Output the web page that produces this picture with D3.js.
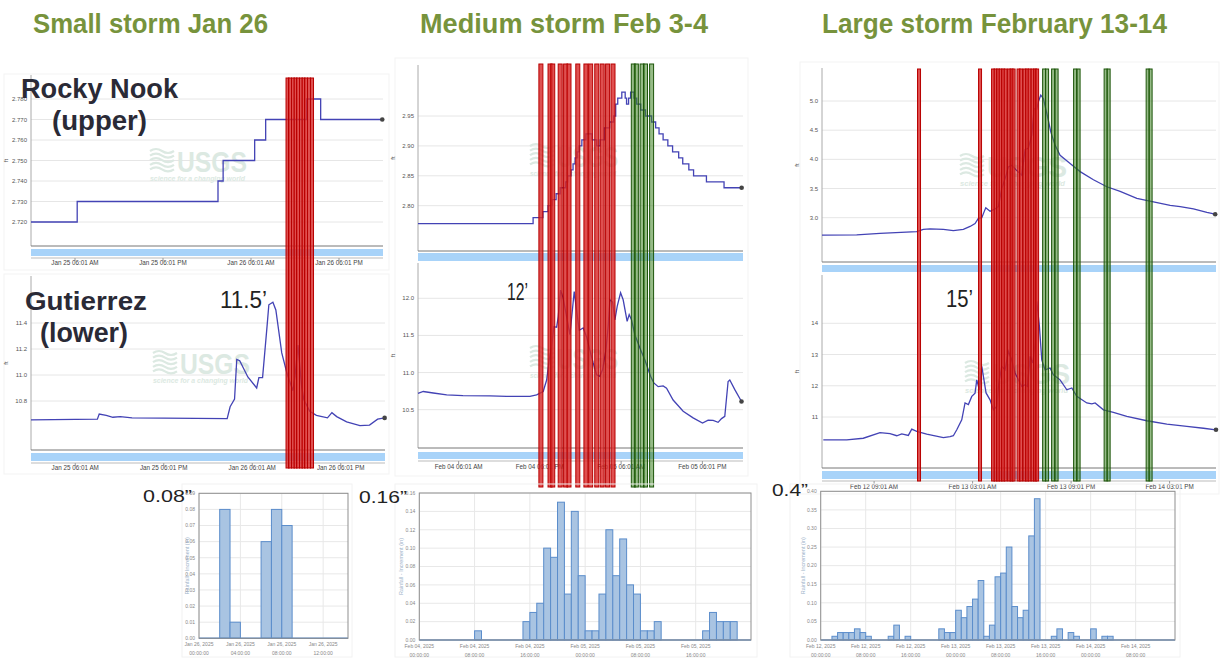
<!DOCTYPE html>
<head>
<meta charset="utf-8">
<title>Storm stage and rainfall</title>
<script src="https://d3js.org/d3.v7.min.js"></script>
<style>
  body { margin: 0; background: #fff; }
  text { font-family: "Liberation Sans", Arial, sans-serif; }
</style>
</head>
<body>
<div id="chart"></div>
<script>
// ---- data (hours since start of each panel's window, values in ft / in) ----
var titles = ["Small storm Jan 26", "Medium storm Feb 3-4", "Large storm February 13-14"];
var siteLabels = ["Rocky Nook", "(upper)", "Gutierrez", "(lower)"];
var peakLabels = ["11.5\u2019", "12\u2019", "15\u2019"];
var rainPeakLabels = ["0.08\u201d", "0.16\u201d", "0.4\u201d"];

// Jan 25 00:00 -> Jan 27 00:00
var janRockyHours = [0, 6.3, 25.5, 26.2, 30.5, 32.0, 37.6, 39.5, 47.9];
var janRockyFt = [2.72, 2.73, 2.74, 2.75, 2.76, 2.77, 2.78, 2.77, 2.77];
var janGutHours = [0, 9.0, 9.25, 10.2, 11.1, 12.1, 13.7, 26.6, 27.0, 27.6, 27.9, 28.3, 29.4, 30.6, 30.9, 31.4, 32.0, 32.25, 32.8, 33.2, 34.0, 34.7, 35.5, 35.8, 36.2, 36.4, 36.7, 37.0, 37.8, 38.7, 40.2, 40.8, 41.45, 42.8, 44.6, 45.9, 47.0, 47.95];
var janGutFt = [10.655, 10.66, 10.70, 10.69, 10.675, 10.68, 10.67, 10.665, 10.756, 10.815, 11.12, 11.11, 10.985, 10.90, 10.98, 10.98, 11.37, 11.54, 11.56, 11.50, 11.17, 11.015, 10.88, 10.99, 11.23, 11.10, 10.91, 10.81, 10.72, 10.69, 10.67, 10.71, 10.68, 10.64, 10.61, 10.615, 10.66, 10.67];
var janRedHours = [34.98, 35.32, 35.73, 36.07, 36.41, 36.82, 37.16, 37.5, 37.91, 38.32];
var janTickHours = [6, 18, 30, 42];
var janTickLabels = ["Jan 25 06:01 AM", "Jan 25 06:01 PM", "Jan 26 06:01 AM", "Jan 26 06:01 PM"];
var janRockyGrid = [2.72, 2.73, 2.74, 2.75, 2.76, 2.77, 2.78];
var janGutGrid = [10.8, 11.0, 11.2, 11.4];

// Feb 04 00:00 -> Feb 06 00:00
var febMidRockyHours = [0, 17.0, 18.45, 19.2, 19.8, 20.4, 21.0, 21.8, 22.1, 22.6, 22.9, 23.2, 23.5, 23.8, 24.2, 24.8, 25.7, 26.4, 26.9, 27.5, 28.3, 28.9, 29.2, 29.5, 30.1, 30.6, 30.8, 31.1, 31.4, 31.9, 32.3, 32.9, 33.6, 34.5, 35.1, 35.6, 36.2, 36.9, 37.6, 38.5, 39.1, 40.0, 40.7, 42.6, 45.2, 47.8];
var febMidRockyFt = [2.77, 2.78, 2.79, 2.80, 2.81, 2.82, 2.83, 2.84, 2.85, 2.86, 2.87, 2.88, 2.89, 2.90, 2.91, 2.92, 2.91, 2.90, 2.91, 2.93, 2.94, 2.95, 2.97, 2.98, 2.99, 2.98, 2.97, 2.98, 2.99, 2.98, 2.97, 2.96, 2.95, 2.94, 2.93, 2.92, 2.91, 2.90, 2.89, 2.88, 2.87, 2.86, 2.85, 2.84, 2.83, 2.83];
var febMidGutHours = [0, 0.78, 2.26, 4.24, 6.64, 10.63, 13.09, 16.53, 17.52, 18.49, 19.0, 19.38, 19.73, 20.07, 20.47, 20.71, 21.06, 21.45, 21.95, 22.44, 22.83, 23.07, 23.42, 23.81, 24.40, 24.90, 25.39, 25.87, 26.38, 26.86, 27.26, 27.75, 28.09, 28.34, 28.74, 29.08, 29.42, 29.92, 30.30, 30.89, 31.19, 31.54, 32.03, 32.77, 33.51, 34.35, 34.83, 35.47, 36.21, 36.71, 37.68, 39.16, 40.63, 42.02, 42.85, 43.59, 44.32, 44.83, 45.31, 45.80, 46.05, 46.79, 47.78];
var febMidGutFt = [10.72, 10.745, 10.725, 10.70, 10.69, 10.685, 10.68, 10.68, 10.70, 10.745, 10.90, 11.17, 11.35, 11.62, 11.61, 11.75, 12.11, 12.0, 11.75, 11.51, 11.87, 12.09, 11.84, 11.57, 11.60, 11.48, 11.30, 11.13, 10.97, 10.95, 11.04, 11.30, 11.62, 11.98, 11.95, 11.71, 11.89, 12.075, 11.98, 11.69, 11.78, 11.71, 11.51, 11.33, 11.17, 10.95, 10.86, 10.81, 10.82, 10.79, 10.63, 10.48, 10.39, 10.32, 10.36, 10.355, 10.33, 10.38, 10.41, 10.88, 10.90, 10.77, 10.61];
var febMidRedHours = [18.15, 19.5, 19.9, 21.0, 21.8, 22.3, 23.6, 24.8, 25.5, 26.4, 27.2, 28.0, 28.8];
var febMidGreenHours = [31.8, 32.25, 33.1, 33.6, 34.5];
var febMidTickHours = [6, 18, 30, 42];
var febMidTickLabels = ["Feb 04 06:01 AM", "Feb 04 06:01 PM", "Feb 05 06:01 AM", "Feb 05 06:01 PM"];
var febMidRockyGrid = [2.80, 2.85, 2.90, 2.95];
var febMidGutGrid = [10.5, 11.0, 11.5, 12.0];

// Feb 11 23:30 -> Feb 14 23:30
var febBigRockyHours = [0, 6.34, 10.60, 17.31, 18.52, 19.74, 22.18, 24.00, 25.83, 27.06, 27.97, 28.57, 29.20, 29.62, 29.93, 30.71, 31.63, 32.23, 32.85, 33.46, 34.06, 34.68, 35.47, 36.51, 37.11, 37.71, 38.34, 38.76, 39.25, 39.54, 39.98, 40.46, 41.08, 41.81, 42.60, 43.51, 45.34, 47.17, 49.60, 52.05, 54.48, 57.53, 60.57, 63.62, 65.45, 67.88, 70.33, 71.85];
var febBigRockyFt = [2.70, 2.705, 2.73, 2.76, 2.80, 2.81, 2.80, 2.78, 2.80, 2.85, 2.90, 2.99, 3.0, 3.10, 3.17, 3.11, 3.15, 3.19, 3.50, 3.67, 3.87, 3.90, 3.82, 3.73, 4.17, 4.19, 4.42, 4.87, 4.86, 4.99, 5.10, 5.04, 4.79, 4.47, 4.24, 4.07, 3.93, 3.79, 3.65, 3.53, 3.45, 3.33, 3.27, 3.21, 3.19, 3.15, 3.09, 3.06];
var febBigGutHours = [0.24, 4.52, 7.55, 10.60, 12.43, 13.66, 14.57, 15.78, 16.40, 17.31, 19.14, 22.18, 23.40, 24.00, 24.63, 25.54, 26.14, 26.75, 27.37, 27.97, 28.28, 28.76, 29.20, 29.98, 30.71, 31.32, 31.94, 32.23, 32.85, 33.46, 34.06, 34.68, 35.28, 35.89, 36.51, 37.11, 37.57, 38.03, 38.52, 38.94, 39.25, 39.73, 40.16, 40.77, 41.68, 42.28, 43.51, 44.74, 45.65, 46.56, 48.39, 49.31, 49.91, 51.43, 53.25, 55.70, 59.36, 63.02, 66.67, 69.71, 72];
var febBigGutFt = [10.27, 10.27, 10.32, 10.50, 10.47, 10.40, 10.46, 10.41, 10.61, 10.54, 10.45, 10.34, 10.37, 10.40, 10.59, 10.91, 11.45, 11.40, 11.66, 11.76, 12.19, 11.87, 12.62, 11.77, 11.55, 11.23, 11.34, 11.98, 12.62, 12.51, 13.10, 12.83, 12.41, 12.19, 11.98, 12.03, 11.98, 12.94, 12.73, 13.37, 14.70, 13.90, 12.83, 12.51, 12.57, 12.35, 12.19, 11.87, 11.93, 11.66, 11.45, 11.42, 11.45, 11.23, 11.15, 11.02, 10.88, 10.77, 10.70, 10.64, 10.59];
var febBigRedHours = [17.73, 28.88, 31.26, 31.72, 32.18, 32.63, 33.09, 33.55, 34.19, 34.64, 35.01, 35.92, 36.38, 37.02, 37.48, 37.93, 38.48, 38.94, 39.31];
var febBigGreenHours = [40.59, 41.13, 42.23, 42.87, 46.25, 46.89, 51.83, 52.38, 59.51, 60.05];
var febBigTickHours = [9.52, 27.52, 45.52, 63.52];
var febBigTickLabels = ["Feb 12 09:01 AM", "Feb 13 03:01 AM", "Feb 13 09:01 PM", "Feb 14 03:01 PM"];
var febBigRockyGrid = [3.0, 3.5, 4.0, 4.5, 5.0];
var febBigGutGrid = [11, 12, 13, 14];

// hourly rainfall increments (in)
var janRain = [0, 0, 0.08, 0.01, 0, 0, 0.06, 0.08, 0.07, 0, 0, 0, 0, 0, 0];
var febMidRain = [0, 0, 0, 0, 0, 0, 0, 0, 0.01, 0, 0, 0, 0, 0, 0,
  0.02, 0.03, 0.04, 0.10, 0.09, 0.15, 0.05, 0.14, 0.07,
  0.01, 0.01, 0.05, 0.12, 0.07, 0.11, 0.06, 0.05, 0.01, 0.01, 0.02,
  0, 0, 0, 0, 0, 0, 0.01, 0.03, 0.02, 0.02, 0.02, 0, 0];
var febBigRain = [0, 0, 0.01, 0.02, 0.02, 0.02, 0.03, 0.02, 0.01, 0, 0, 0,
  0.01, 0.04, 0, 0.01, 0, 0, 0, 0, 0,
  0.03, 0.02, 0.02, 0.08, 0.06, 0.09, 0.11, 0.16, 0.01, 0.04, 0.17, 0.18, 0.25, 0.09, 0.06, 0.08, 0.28, 0.38,
  0, 0, 0.01, 0.03, 0, 0.02, 0.01, 0, 0, 0.03, 0, 0.01, 0.01,
  0, 0, 0, 0, 0, 0, 0, 0, 0, 0, 0];
var janRainGrid = [0, 0.01, 0.02, 0.03, 0.04, 0.05, 0.06, 0.07, 0.08, 0.09];
var febMidRainGrid = [0, 0.02, 0.04, 0.06, 0.08, 0.10, 0.12, 0.14, 0.16];
var febBigRainGrid = [0, 0.05, 0.10, 0.15, 0.20, 0.25, 0.30, 0.35, 0.40];
var janRainTickHours = [0, 4, 8, 12];
var janRainTickDates = ["Jan 26, 2025", "Jan 26, 2025", "Jan 26, 2025", "Jan 26, 2025"];
var janRainTickTimes = ["00:00:00", "04:00:00", "08:00:00", "12:00:00"];
var febMidRainTickHours = [0, 8, 16, 24, 32, 40];
var febMidRainTickDates = ["Feb 04, 2025", "Feb 04, 2025", "Feb 04, 2025", "Feb 05, 2025", "Feb 05, 2025", "Feb 05, 2025"];
var febMidRainTickTimes = ["00:00:00", "08:00:00", "16:00:00", "00:00:00", "08:00:00", "16:00:00"];
var febBigRainTickHours = [0, 8, 16, 24, 32, 40, 48, 56];
var febBigRainTickDates = ["Feb 12, 2025", "Feb 12, 2025", "Feb 12, 2025", "Feb 13, 2025", "Feb 13, 2025", "Feb 13, 2025", "Feb 14, 2025", "Feb 14, 2025"];
var febBigRainTickTimes = ["00:00:00", "08:00:00", "16:00:00", "00:00:00", "08:00:00", "16:00:00", "00:00:00", "08:00:00"];

// ---- drawing ----
var svg = d3.select("#chart").append("svg")
  .attr("width", 1221)
  .attr("height", 658);

function usgs(g, x, y, w) {
  var c = "#dce9e2";
  for (var i = 0; i < 5; i++) {
    g.append("path")
      .attr("d", "M" + x + "," + (y + 3 + i * 4.6) + " q6,-4 12,0 t12,0")
      .attr("fill", "none").attr("stroke", c).attr("stroke-width", 2.2);
  }
  g.append("text").attr("x", x + 27).attr("y", y + 24).text("USGS")
    .attr("font-size", 30).attr("font-weight", "bold").attr("fill", c)
    .attr("textLength", w - 27).attr("lengthAdjust", "spacingAndGlyphs");
  g.append("text").attr("x", x).attr("y", y + 33).text("science for a changing world")
    .attr("font-size", 8).attr("font-style", "italic").attr("font-weight", "bold").attr("fill", c)
    .attr("textLength", w - 2).attr("lengthAdjust", "spacingAndGlyphs");
}

function stage(o) {
  var x = d3.scaleLinear().domain(o.xd).range([o.x0, o.x1]);
  var y = d3.scaleLinear().domain(o.yd).range(o.yr);
  var g = svg.append("g");

  g.selectAll("line.grid").data(o.grid).join("line")
    .attr("x1", o.x0).attr("x2", o.x1)
    .attr("y1", d => y(d)).attr("y2", d => y(d))
    .attr("stroke", "#e6e6e6");
  g.selectAll("text.yl").data(o.grid).join("text")
    .attr("x", o.x0 - 4).attr("y", d => y(d) + 2)
    .attr("text-anchor", "end").attr("font-size", 6).attr("fill", "#555")
    .text(d => d3.format(o.fmt)(d));
  g.append("text").attr("transform", "translate(" + (o.x0 - 23) + "," + ((o.top + o.bottom) / 2) + ") rotate(-90)")
    .attr("text-anchor", "middle").attr("font-size", 6).attr("fill", "#555").text("ft");

  usgs(g, o.wm[0], o.wm[1], o.wm[2]);

  g.append("line").attr("x1", o.x0).attr("x2", o.x0).attr("y1", o.top).attr("y2", o.bottom)
    .attr("stroke", "#aaa");
  g.append("line").attr("x1", o.x0).attr("x2", o.x1).attr("y1", o.bottom).attr("y2", o.bottom)
    .attr("stroke", "#777");
  g.append("rect").attr("x", o.x0).attr("y", o.band[0])
    .attr("width", o.x1 - o.x0).attr("height", o.band[1] - o.band[0])
    .attr("fill", "#a8d3f9");

  if (o.ticks) {
    var ly = o.band[1] + 2;
    g.append("line").attr("x1", o.x0).attr("x2", o.x1).attr("y1", ly).attr("y2", ly)
      .attr("stroke", "#bbb");
    g.selectAll("line.tk").data(o.ticks).join("line")
      .attr("x1", d => x(d)).attr("x2", d => x(d)).attr("y1", ly).attr("y2", ly + 3)
      .attr("stroke", "#999");
    g.selectAll("text.xl").data(o.ticks).join("text")
      .attr("x", d => x(d)).attr("y", o.labelY)
      .attr("text-anchor", "middle").attr("font-size", 6.3).attr("fill", "#444")
      .text((d, i) => o.tickLabels[i]);
  }

  var pts = o.hours.map((h, i) => [h, o.vals[i]]);
  g.append("path").datum(pts)
    .attr("d", d3.line().x(d => x(d[0])).y(d => y(d[1])).curve(o.curve || d3.curveLinear))
    .attr("fill", "none").attr("stroke", "#4343b5").attr("stroke-width", 1.3);
  var last = pts[pts.length - 1];
  g.append("circle").attr("cx", x(last[0])).attr("cy", y(last[1])).attr("r", 2.3).attr("fill", "#444");
  return x;
}

function events(hours, x, y0, y1, w, kind) {
  var red = kind === "red";
  svg.append("g").selectAll("rect").data(hours).join("rect")
    .attr("x", d => x(d) - w / 2).attr("y", y0)
    .attr("width", w).attr("height", y1 - y0)
    .attr("fill", red ? "#d82a2a" : "#3f8424")
    .attr("fill-opacity", red ? 0.82 : 0.55)
    .attr("stroke", red ? "#b80000" : "#1d560a")
    .attr("stroke-width", 1);
}

function rain(o) {
  var x = d3.scaleLinear().domain([0, o.hours]).range([o.x0, o.x1]);
  var y = d3.scaleLinear().domain([0, o.grid[o.grid.length - 1]]).range([o.bottom, o.top]);
  var g = svg.append("g");
  g.append("rect").attr("x", o.frame[0]).attr("y", o.frame[1])
    .attr("width", o.frame[2] - o.frame[0]).attr("height", o.frame[3] - o.frame[1])
    .attr("fill", "none").attr("stroke", "#f2f2f2");
  g.selectAll("line.hg").data(o.grid).join("line")
    .attr("x1", o.x0).attr("x2", o.x1).attr("y1", d => y(d)).attr("y2", d => y(d))
    .attr("stroke", "#e8e8e8");
  g.selectAll("line.vg").data(o.ticks).join("line")
    .attr("x1", d => x(d)).attr("x2", d => x(d)).attr("y1", o.top).attr("y2", o.bottom)
    .attr("stroke", "#e8e8e8");
  g.selectAll("rect.bar").data(o.vals.map((v, i) => [i, v]).filter(d => d[1] > 0)).join("rect")
    .attr("x", d => x(d[0])).attr("width", d => x(d[0] + 1) - x(d[0]))
    .attr("y", d => y(d[1])).attr("height", d => y(0) - y(d[1]))
    .attr("fill", "#a9c4e2").attr("stroke", "#5b8dcb").attr("stroke-width", 1);
  g.append("line").attr("x1", o.x0).attr("x2", o.x1).attr("y1", y(0)).attr("y2", y(0))
    .attr("stroke", "#5b8dcb").attr("stroke-width", 1.5);
  g.append("rect").attr("x", o.x0).attr("y", o.top)
    .attr("width", o.x1 - o.x0).attr("height", o.bottom - o.top)
    .attr("fill", "none").attr("stroke", "#8f8f8f");
  g.selectAll("text.yl").data(o.grid).join("text")
    .attr("x", o.x0 - 4).attr("y", d => y(d) + 1.8)
    .attr("text-anchor", "end").attr("font-size", 5).attr("fill", "#888")
    .text(d => d3.format(".2f")(d));
  g.append("text").attr("transform", "translate(" + o.titleX + "," + ((o.top + o.bottom) / 2) + ") rotate(-90)")
    .attr("text-anchor", "middle").attr("font-size", 5.5).attr("fill", "#9cb2c9")
    .text("Rainfall - Increment (in)");
  g.selectAll("text.xd").data(o.ticks).join("text")
    .attr("x", d => x(d)).attr("y", o.bottom + 8)
    .attr("text-anchor", "middle").attr("font-size", 5).attr("fill", "#888")
    .text((d, i) => o.dates[i]);
  g.selectAll("text.xt").data(o.ticks).join("text")
    .attr("x", d => x(d)).attr("y", o.bottom + 16.5)
    .attr("text-anchor", "middle").attr("font-size", 5).attr("fill", "#888")
    .text((d, i) => o.times[i]);
}

// faint screenshot frames
[[4, 74, 389, 270], [4, 274, 389, 474], [395, 58, 748, 476], [800, 62, 1219, 494]].forEach(f => {
  svg.append("rect").attr("x", f[0]).attr("y", f[1]).attr("width", f[2] - f[0]).attr("height", f[3] - f[1])
    .attr("fill", "none").attr("stroke", "#f3f3f3");
});

// small storm
var xJan = stage({ x0: 31, x1: 383, top: 75, bottom: 246, xd: [0, 48], yd: [2.72, 2.78], yr: [222, 99],
  grid: janRockyGrid, fmt: ".3f", band: [249, 256], ticks: janTickHours, tickLabels: janTickLabels, labelY: 264.5,
  hours: janRockyHours, vals: janRockyFt, curve: d3.curveStepAfter, wm: [150, 148, 97] });
stage({ x0: 31, x1: 385, top: 276, bottom: 450, xd: [0, 48], yd: [10.8, 11.4], yr: [401, 323],
  grid: janGutGrid, fmt: ".1f", band: [453, 461], ticks: janTickHours, tickLabels: janTickLabels, labelY: 469.5,
  hours: janGutHours, vals: janGutFt, wm: [153, 350, 97] });

// medium storm
var xMid = stage({ x0: 418, x1: 743, top: 65, bottom: 251, xd: [0, 48], yd: [2.80, 2.95], yr: [205.7, 116],
  grid: febMidRockyGrid, fmt: ".2f", band: [253, 261],
  hours: febMidRockyHours, vals: febMidRockyFt, curve: d3.curveStepAfter, wm: [530, 143, 88] });
stage({ x0: 418, x1: 743, top: 263, bottom: 448, xd: [0, 48], yd: [10.5, 12.0], yr: [409.7, 298.3],
  grid: febMidGutGrid, fmt: ".1f", band: [452, 459], ticks: febMidTickHours, tickLabels: febMidTickLabels, labelY: 469,
  hours: febMidGutHours, vals: febMidGutFt, wm: [530, 345, 88] });

// large storm
var xBig = stage({ x0: 822, x1: 1216, top: 68, bottom: 262, xd: [0, 72], yd: [3.0, 5.0], yr: [217.7, 101],
  grid: febBigRockyGrid, fmt: ".1f", band: [265, 272],
  hours: febBigRockyHours, vals: febBigRockyFt, wm: [960, 153, 107] });
stage({ x0: 822, x1: 1216, top: 275, bottom: 468, xd: [0, 72], yd: [11, 14], yr: [417, 323.3],
  grid: febBigGutGrid, fmt: "d", band: [471, 479], ticks: febBigTickHours, tickLabels: febBigTickLabels, labelY: 489,
  hours: febBigGutHours, vals: febBigGutFt, wm: [965, 360, 105] });

// rain / recession markers
events(janRedHours, xJan, 78, 468, 3, "red");
events(febMidRedHours, xMid, 64, 487, 4, "red");
events(febMidGreenHours, xMid, 64, 487, 4, "green");
events(febBigRedHours, xBig, 69, 481, 3, "red");
events(febBigGreenHours, xBig, 69, 481, 3, "green");

// rainfall charts
rain({ x0: 199, x1: 348, top: 493.3, bottom: 638.3, hours: 14.4, grid: janRainGrid, vals: janRain,
  ticks: janRainTickHours, dates: janRainTickDates, times: janRainTickTimes, titleX: 189, frame: [182, 484, 352, 657] });
rain({ x0: 419.3, x1: 751, top: 493, bottom: 640, hours: 48, grid: febMidRainGrid, vals: febMidRain,
  ticks: febMidRainTickHours, dates: febMidRainTickDates, times: febMidRainTickTimes, titleX: 403, frame: [395, 484, 757, 657] });
rain({ x0: 820.7, x1: 1175, top: 491.3, bottom: 640, hours: 63, grid: febBigRainGrid, vals: febBigRain,
  ticks: febBigRainTickHours, dates: febBigRainTickDates, times: febBigRainTickTimes, titleX: 805, frame: [790, 484, 1180, 657] });

// titles and annotations
function txt(s, x, y, size, w, opt) {
  opt = opt || {};
  svg.append("text").attr("x", x).attr("y", y).text(s)
    .attr("font-size", size).attr("font-weight", opt.bold ? "bold" : "normal")
    .attr("font-family", opt.family || null)
    .attr("fill", opt.fill || "#222")
    .attr("textLength", w).attr("lengthAdjust", "spacingAndGlyphs");
}
var narrow = "'Liberation Sans Narrow', 'DejaVu Sans Condensed', sans-serif";
txt(titles[0], 33, 33, 27, 235, { bold: true, fill: "#77933c", family: narrow });
txt(titles[1], 420, 33, 27, 288, { bold: true, fill: "#77933c", family: narrow });
txt(titles[2], 822, 33, 27, 345, { bold: true, fill: "#77933c", family: narrow });

txt(siteLabels[0], 21, 97.5, 27, 157, { bold: true, fill: "#2a2a36" });
txt(siteLabels[1], 52, 130, 27, 95, { bold: true, fill: "#2a2a36" });
txt(siteLabels[2], 25, 309.5, 26, 122, { bold: true, fill: "#2a2a36" });
txt(siteLabels[3], 40, 342, 27, 88, { bold: true, fill: "#2a2a36" });

txt(peakLabels[0], 220, 308, 23, 47);
txt(peakLabels[1], 507, 300, 23, 21);
txt(peakLabels[2], 946, 306.5, 23, 27);

txt(rainPeakLabels[0], 143, 502, 17, 49);
txt(rainPeakLabels[1], 359, 502.5, 17, 48);
txt(rainPeakLabels[2], 772, 496, 17, 36);
</script>
</body>
</html>
